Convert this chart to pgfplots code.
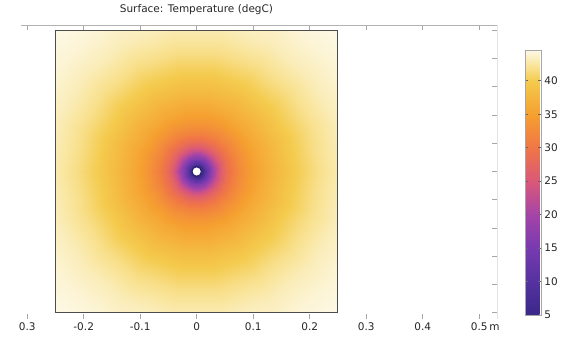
\documentclass[border=0pt]{standalone}
\usepackage{fontspec}
\setmainfont{DejaVu Sans}
\usepackage{pgfplots}
\pgfplotsset{compat=1.18}
\pgfplotsset{/pgf/number format/assume math mode=true}

% thermal colour scale, positions in tenths of degC (5 ... 44.6)
\pgfplotsset{colormap={heat}{
  rgb255(50)=(58,40,135) rgb255(100)=(85,50,160) rgb255(150)=(120,58,176)
  rgb255(200)=(165,68,168) rgb255(250)=(218,88,120) rgb255(300)=(240,118,70)
  rgb255(350)=(245,160,48) rgb255(400)=(244,203,78) rgb255(425)=(249,230,160)
  rgb255(446)=(253,249,232)}}
\definecolor{rim}{RGB}{45,30,110}

\begin{document}
\begin{tikzpicture}
% outer frame with ticks and title
\begin{axis}[
  at={(0pt,0pt)}, anchor=origin,
  x=565pt, y=565pt,
  xmin=-0.311, xmax=0.532, ymin=-0.261, ymax=0.259,
  axis line style={draw=none},
  xtick={-0.3,-0.2,-0.1,0,0.1,0.2,0.3,0.4,0.5},
  xticklabels={0.3,-0.2,-0.1,0,0.1,0.2,0.3,0.4,0.5\rlap{\,m}},
  ytick={-0.25,-0.2,-0.15,-0.1,-0.05,0,0.05,0.1,0.15,0.2,0.25},
  yticklabels={},
  ytick pos=right,
  tick align=inside,
  major tick length=5pt,
  tick style={black!35, line width=0.6pt},
  xticklabel style={font=\fontsize{10.5}{12}\selectfont, text=black!85},
  title={Surface: Temperature (degC)},
  title style={at={(0.3685,1)}, anchor=base, yshift=7pt,
    font=\fontsize{10.5}{12}\selectfont, text=black!85},
]
\draw[black!30, line width=0.6pt] (rel axis cs:0,1) -- (rel axis cs:1,1)
  -- (rel axis cs:1,0) -- (rel axis cs:0,0);
\end{axis}

% temperature field on the square domain
\begin{axis}[
  at={(0pt,0pt)}, anchor=center,
  scale only axis, width=282.5pt, height=282.5pt,
  view={0}{90},
  xmin=-0.25, xmax=0.25, ymin=-0.25, ymax=0.25,
  xtick=\empty, ytick=\empty, ztick=\empty,
  axis on top,
  axis line style={draw=black!70, line width=1pt},
  colormap name=heat,
  point meta min=5, point meta max=44.6,
  colorbar,
  colorbar style={
    at={(parent axis.north east)}, anchor=north west,
    xshift=178.8pt, yshift=-19.75pt,
    scale only axis, width=15.6pt, height=265pt,
    ytick={5,10,15,20,25,30,35,40},
    ytick pos=both, yticklabel pos=right,
    tick align=inside, major tick length=3pt,
    tick style={black!60, line width=0.6pt},
    axis line style={draw=black!35, line width=0.6pt},
    yticklabel style={font=\fontsize{10.5}{12}\selectfont, text=black!85},
  },
]
\addplot3[surf, shader=interp, mesh/rows=18, mesh/cols=19]
  table[row sep=\\,
        x expr={\thisrow{r}*cos(\thisrow{a})},
        y expr={\thisrow{r}*sin(\thisrow{a})},
        z=T] {
a r T\\
0 0.0085 5\\ 20 0.0085 5\\ 40 0.0085 5\\ 60 0.0085 5\\ 80 0.0085 5\\ 100 0.0085 5\\ 120 0.0085 5\\ 140 0.0085 5\\ 160 0.0085 5\\ 180 0.0085 5\\ 200 0.0085 5\\ 220 0.0085 5\\ 240 0.0085 5\\ 260 0.0085 5\\ 280 0.0085 5\\ 300 0.0085 5\\ 320 0.0085 5\\ 340 0.0085 5\\ 360 0.0085 5\\
0 0.0108 6.5\\ 20 0.0108 6.5\\ 40 0.0108 6.5\\ 60 0.0108 6.5\\ 80 0.0108 6.5\\ 100 0.0108 6.5\\ 120 0.0108 6.5\\ 140 0.0108 6.5\\ 160 0.0108 6.5\\ 180 0.0108 6.5\\ 200 0.0108 6.5\\ 220 0.0108 6.5\\ 240 0.0108 6.5\\ 260 0.0108 6.5\\ 280 0.0108 6.5\\ 300 0.0108 6.5\\ 320 0.0108 6.5\\ 340 0.0108 6.5\\ 360 0.0108 6.5\\
0 0.014 9.5\\ 20 0.014 9.5\\ 40 0.014 9.5\\ 60 0.014 9.5\\ 80 0.014 9.5\\ 100 0.014 9.5\\ 120 0.014 9.5\\ 140 0.014 9.5\\ 160 0.014 9.5\\ 180 0.014 9.5\\ 200 0.014 9.5\\ 220 0.014 9.5\\ 240 0.014 9.5\\ 260 0.014 9.5\\ 280 0.014 9.5\\ 300 0.014 9.5\\ 320 0.014 9.5\\ 340 0.014 9.5\\ 360 0.014 9.5\\
0 0.018 12.5\\ 20 0.018 12.5\\ 40 0.018 12.5\\ 60 0.018 12.5\\ 80 0.018 12.5\\ 100 0.018 12.5\\ 120 0.018 12.5\\ 140 0.018 12.5\\ 160 0.018 12.5\\ 180 0.018 12.5\\ 200 0.018 12.5\\ 220 0.018 12.5\\ 240 0.018 12.5\\ 260 0.018 12.5\\ 280 0.018 12.5\\ 300 0.018 12.5\\ 320 0.018 12.5\\ 340 0.018 12.5\\ 360 0.018 12.5\\
0 0.023 16\\ 20 0.023 16\\ 40 0.023 16\\ 60 0.023 16\\ 80 0.023 16\\ 100 0.023 16\\ 120 0.023 16\\ 140 0.023 16\\ 160 0.023 16\\ 180 0.023 16\\ 200 0.023 16\\ 220 0.023 16\\ 240 0.023 16\\ 260 0.023 16\\ 280 0.023 16\\ 300 0.023 16\\ 320 0.023 16\\ 340 0.023 16\\ 360 0.023 16\\
0 0.029 19.5\\ 20 0.029 19.5\\ 40 0.029 19.5\\ 60 0.029 19.5\\ 80 0.029 19.5\\ 100 0.029 19.5\\ 120 0.029 19.5\\ 140 0.029 19.5\\ 160 0.029 19.5\\ 180 0.029 19.5\\ 200 0.029 19.5\\ 220 0.029 19.5\\ 240 0.029 19.5\\ 260 0.029 19.5\\ 280 0.029 19.5\\ 300 0.029 19.5\\ 320 0.029 19.5\\ 340 0.029 19.5\\ 360 0.029 19.5\\
0 0.036 23\\ 20 0.036 23\\ 40 0.036 23\\ 60 0.036 23\\ 80 0.036 23\\ 100 0.036 23\\ 120 0.036 23\\ 140 0.036 23\\ 160 0.036 23\\ 180 0.036 23\\ 200 0.036 23\\ 220 0.036 23\\ 240 0.036 23\\ 260 0.036 23\\ 280 0.036 23\\ 300 0.036 23\\ 320 0.036 23\\ 340 0.036 23\\ 360 0.036 23\\
0 0.045 26.5\\ 20 0.045 26.5\\ 40 0.045 26.5\\ 60 0.045 26.5\\ 80 0.045 26.5\\ 100 0.045 26.5\\ 120 0.045 26.5\\ 140 0.045 26.5\\ 160 0.045 26.5\\ 180 0.045 26.5\\ 200 0.045 26.5\\ 220 0.045 26.5\\ 240 0.045 26.5\\ 260 0.045 26.5\\ 280 0.045 26.5\\ 300 0.045 26.5\\ 320 0.045 26.5\\ 340 0.045 26.5\\ 360 0.045 26.5\\
0 0.056 29.2\\ 20 0.056 29.2\\ 40 0.056 29.2\\ 60 0.056 29.2\\ 80 0.056 29.2\\ 100 0.056 29.2\\ 120 0.056 29.2\\ 140 0.056 29.2\\ 160 0.056 29.2\\ 180 0.056 29.2\\ 200 0.056 29.2\\ 220 0.056 29.2\\ 240 0.056 29.2\\ 260 0.056 29.2\\ 280 0.056 29.2\\ 300 0.056 29.2\\ 320 0.056 29.2\\ 340 0.056 29.2\\ 360 0.056 29.2\\
0 0.07 31.6\\ 20 0.07 31.6\\ 40 0.07 31.6\\ 60 0.07 31.6\\ 80 0.07 31.6\\ 100 0.07 31.6\\ 120 0.07 31.6\\ 140 0.07 31.6\\ 160 0.07 31.6\\ 180 0.07 31.6\\ 200 0.07 31.6\\ 220 0.07 31.6\\ 240 0.07 31.6\\ 260 0.07 31.6\\ 280 0.07 31.6\\ 300 0.07 31.6\\ 320 0.07 31.6\\ 340 0.07 31.6\\ 360 0.07 31.6\\
0 0.088 33.8\\ 20 0.088 33.8\\ 40 0.088 33.8\\ 60 0.088 33.8\\ 80 0.088 33.8\\ 100 0.088 33.8\\ 120 0.088 33.8\\ 140 0.088 33.8\\ 160 0.088 33.8\\ 180 0.088 33.8\\ 200 0.088 33.8\\ 220 0.088 33.8\\ 240 0.088 33.8\\ 260 0.088 33.8\\ 280 0.088 33.8\\ 300 0.088 33.8\\ 320 0.088 33.8\\ 340 0.088 33.8\\ 360 0.088 33.8\\
0 0.11 35.8\\ 20 0.11 35.8\\ 40 0.11 35.8\\ 60 0.11 35.8\\ 80 0.11 35.8\\ 100 0.11 35.8\\ 120 0.11 35.8\\ 140 0.11 35.8\\ 160 0.11 35.8\\ 180 0.11 35.8\\ 200 0.11 35.8\\ 220 0.11 35.8\\ 240 0.11 35.8\\ 260 0.11 35.8\\ 280 0.11 35.8\\ 300 0.11 35.8\\ 320 0.11 35.8\\ 340 0.11 35.8\\ 360 0.11 35.8\\
0 0.14 37.8\\ 20 0.14 37.8\\ 40 0.14 37.8\\ 60 0.14 37.8\\ 80 0.14 37.8\\ 100 0.14 37.8\\ 120 0.14 37.8\\ 140 0.14 37.8\\ 160 0.14 37.8\\ 180 0.14 37.8\\ 200 0.14 37.8\\ 220 0.14 37.8\\ 240 0.14 37.8\\ 260 0.14 37.8\\ 280 0.14 37.8\\ 300 0.14 37.8\\ 320 0.14 37.8\\ 340 0.14 37.8\\ 360 0.14 37.8\\
0 0.175 40\\ 20 0.175 40\\ 40 0.175 40\\ 60 0.175 40\\ 80 0.175 40\\ 100 0.175 40\\ 120 0.175 40\\ 140 0.175 40\\ 160 0.175 40\\ 180 0.175 40\\ 200 0.175 40\\ 220 0.175 40\\ 240 0.175 40\\ 260 0.175 40\\ 280 0.175 40\\ 300 0.175 40\\ 320 0.175 40\\ 340 0.175 40\\ 360 0.175 40\\
0 0.215 41.8\\ 20 0.215 41.8\\ 40 0.215 41.8\\ 60 0.215 41.8\\ 80 0.215 41.8\\ 100 0.215 41.8\\ 120 0.215 41.8\\ 140 0.215 41.8\\ 160 0.215 41.8\\ 180 0.215 41.8\\ 200 0.215 41.8\\ 220 0.215 41.8\\ 240 0.215 41.8\\ 260 0.215 41.8\\ 280 0.215 41.8\\ 300 0.215 41.8\\ 320 0.215 41.8\\ 340 0.215 41.8\\ 360 0.215 41.8\\
0 0.26 43.2\\ 20 0.26 43.2\\ 40 0.26 43.2\\ 60 0.26 43.2\\ 80 0.26 43.2\\ 100 0.26 43.2\\ 120 0.26 43.2\\ 140 0.26 43.2\\ 160 0.26 43.2\\ 180 0.26 43.2\\ 200 0.26 43.2\\ 220 0.26 43.2\\ 240 0.26 43.2\\ 260 0.26 43.2\\ 280 0.26 43.2\\ 300 0.26 43.2\\ 320 0.26 43.2\\ 340 0.26 43.2\\ 360 0.26 43.2\\
0 0.305 44\\ 20 0.305 44\\ 40 0.305 44\\ 60 0.305 44\\ 80 0.305 44\\ 100 0.305 44\\ 120 0.305 44\\ 140 0.305 44\\ 160 0.305 44\\ 180 0.305 44\\ 200 0.305 44\\ 220 0.305 44\\ 240 0.305 44\\ 260 0.305 44\\ 280 0.305 44\\ 300 0.305 44\\ 320 0.305 44\\ 340 0.305 44\\ 360 0.305 44\\
0 0.36 44.6\\ 20 0.36 44.6\\ 40 0.36 44.6\\ 60 0.36 44.6\\ 80 0.36 44.6\\ 100 0.36 44.6\\ 120 0.36 44.6\\ 140 0.36 44.6\\ 160 0.36 44.6\\ 180 0.36 44.6\\ 200 0.36 44.6\\ 220 0.36 44.6\\ 240 0.36 44.6\\ 260 0.36 44.6\\ 280 0.36 44.6\\ 300 0.36 44.6\\ 320 0.36 44.6\\ 340 0.36 44.6\\ 360 0.36 44.6\\
};
% the bore hole at the centre
\addplot3[only marks, mark=*, mark size=4.8pt,
  mark options={fill=white, draw=rim, line width=1.2pt}] coordinates {(0,0,44.6)};
\end{axis}

\pgfresetboundingbox
\path[use as bounding box] (-196.7pt,-167.5pt) rectangle (366.3pt,171.5pt);
\end{tikzpicture}
\end{document}
